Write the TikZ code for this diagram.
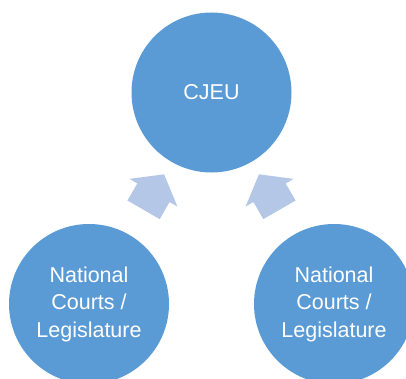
\documentclass[tikz,border=0pt]{standalone}
\usepackage{fontspec}
\setmainfont{Liberation Sans}
\usetikzlibrary{shapes,arrows,calc}
\definecolor{circblue}{HTML}{5B9BD5}
\definecolor{arrowblue}{HTML}{B4C7E7}

\begin{document}
\begin{tikzpicture}[x=1pt, y=1pt,
    court/.style={circle, fill=circblue, text=white, minimum size=160pt, inner sep=0pt, align=center, font=\fontsize{21.5}{27.5}\selectfont},
    uparrow/.style={single arrow, fill=arrowblue, minimum height=41pt, inner xsep=0pt, inner ysep=18.4pt, single arrow head extend=9.1pt, single arrow tip angle=105}]

    \useasboundingbox (0,0) rectangle (406,378);

    % Nodes
    \node [court] (cjeu) at (211.5,285.5) {CJEU};
    \node [court] (natleft) at (89,74) {National\\Courts /\\Legislature};
    \node [court] (natright) at (334,74) {National\\Courts /\\Legislature};

    % Arrows
    \node [uparrow, rotate=60] (upleft) at ($(natleft)!0.5!(cjeu)$) {};
    \node [uparrow, rotate=120] (upright) at ($(natright)!0.5!(cjeu)$) {};

\end{tikzpicture}
\end{document}
